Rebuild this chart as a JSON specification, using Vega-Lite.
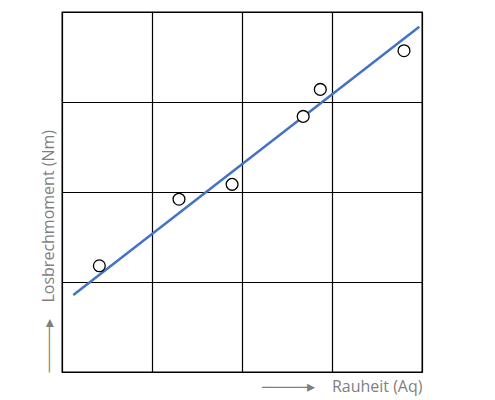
{
  "$schema": "https://vega.github.io/schema/vega-lite/v6.json",
  "width": 360,
  "height": 360,
  "autosize": {"type": "none"},
  "padding": {"left": 62, "top": 12, "right": 73, "bottom": 28},
  "background": "white",
  "config": {
    "view": {"stroke": "black", "strokeWidth": 1.3},
    "axis": {
      "labels": false,
      "ticks": false,
      "domain": false,
      "grid": true,
      "gridColor": "black",
      "gridWidth": 1.2,
      "gridOpacity": 1,
      "titleFont": "Open Sans",
      "titleFontSize": 16,
      "titleFontWeight": "normal",
      "titleColor": "#7f7f7f"
    }
  },
  "datasets": {
    "points": [
      {"rauheit": 0.415, "moment": 1.18},
      {"rauheit": 1.30, "moment": 1.92},
      {"rauheit": 1.89, "moment": 2.085},
      {"rauheit": 2.68, "moment": 2.84},
      {"rauheit": 2.87, "moment": 3.14},
      {"rauheit": 3.80, "moment": 3.57}
    ],
    "fit": [
      {"rauheit": 0.126, "moment": 0.856},
      {"rauheit": 3.97, "moment": 3.837}
    ]
  },
  "encoding": {
    "x": {"field": "rauheit", "type": "quantitative", "scale": {"domain": [0, 4]}, "axis": {"values": [0, 1, 2, 3, 4], "title": "────▸\u00a0\u00a0\u00a0\u00a0Rauheit (Aq)", "titleAnchor": "end", "titlePadding": 6}},
    "y": {"field": "moment", "type": "quantitative", "scale": {"domain": [0, 4]}, "axis": {"values": [0, 1, 2, 3, 4], "title": "\u00a0\u00a0────▸\u00a0\u00a0\u00a0\u00a0Losbrechmoment (Nm)", "titleAnchor": "start", "titlePadding": 6}}
  },
  "layer": [
    {
      "data": {"name": "fit"},
      "mark": {"type": "line", "color": "#4472C4", "strokeWidth": 2.5}
    },
    {
      "data": {"name": "points"},
      "mark": {"type": "point", "shape": "circle", "size": 140, "filled": false, "fill": "white", "fillOpacity": 1, "stroke": "black", "strokeWidth": 1.3, "opacity": 1}
    }
  ]
}
